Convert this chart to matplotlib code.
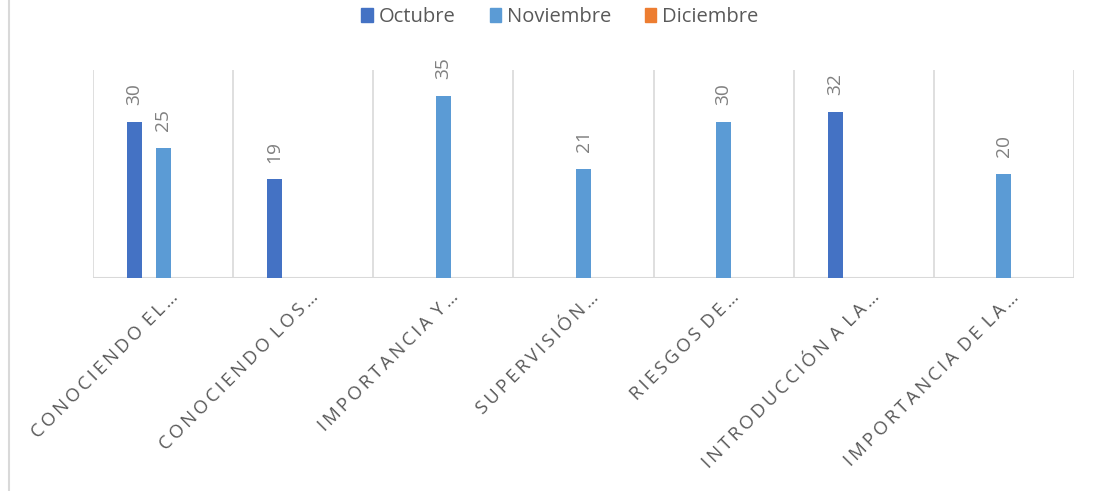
import matplotlib.pyplot as plt
from matplotlib.patches import Patch
from matplotlib.lines import Line2D

categories = ["CONOCIENDO EL…", "CONOCIENDO LOS…", "IMPORTANCIA Y…", "SUPERVISIÓN…",
              "RIESGOS DE…", "INTRODUCCIÓN A LA…", "IMPORTANCIA DE LA…"]
series_names = ["Octubre", "Noviembre", "Diciembre"]
octubre = [30, 19, None, None, None, 32, None]
noviembre = [25, None, 35, 21, 30, None, 20]
diciembre = [None, None, None, None, None, None, None]
colors = ["#4472C4", "#5B9BD5", "#ED7D31"]

plt.rcParams['font.family'] = ['Open Sans', 'DejaVu Sans']

fig = plt.figure(figsize=(10.93, 4.91), dpi=100)
ax = fig.add_axes([93/1093, 1 - 278/491, (1074 - 93)/1093, (278 - 70)/491])

offsets = [-0.205, 0.0, 0.205]
width = 0.107
for k, vals in enumerate([octubre, noviembre, diciembre]):
    for i, v in enumerate(vals):
        if v is None:
            continue
        x = i + offsets[k]
        ax.bar(x, v, width=width, color=colors[k], zorder=3)
        ax.annotate(str(v), (x, v), xytext=(0, 12), textcoords='offset points',
                    rotation=90, ha='center', va='bottom', fontsize=13.8, color='#808080')

ax.set_xlim(-0.5, len(categories) - 0.5)
ax.set_ylim(0, 40)
for b in range(len(categories) + 1):
    ax.axvline(b - 0.5, color='#d9d9d9', lw=1.2, zorder=1)
ax.axhline(0, color='#d9d9d9', lw=1.5, zorder=2)
for s in ax.spines.values():
    s.set_visible(False)
ax.set_xticks([])
ax.set_yticks([])

# letter spaced category labels, like the original chart
for i, lab in enumerate(categories):
    spaced = "\u2009 ".join("\u2009".join(w) for w in lab.split(" "))
    ax.annotate(spaced, (i, 0), xytext=(9, -12), textcoords='offset points',
                rotation=45, rotation_mode='anchor', ha='right', va='center',
                fontsize=13.3, color='#595959')

handles = [Patch(color=c) for c in colors]
fig.legend(handles, series_names, loc='center', bbox_to_anchor=(560/1093, 1 - 17/491),
           ncol=3, frameon=False, fontsize=14.5, handlelength=0.55, handleheight=0.7,
           handletextpad=0.3, columnspacing=1.7, labelcolor='#595959')

fig.add_artist(Line2D([8.5/1093, 8.5/1093], [0, 1], color='#d9d9d9', lw=1.5,
                      transform=fig.transFigure))

fig.savefig("out.png", dpi=100)
